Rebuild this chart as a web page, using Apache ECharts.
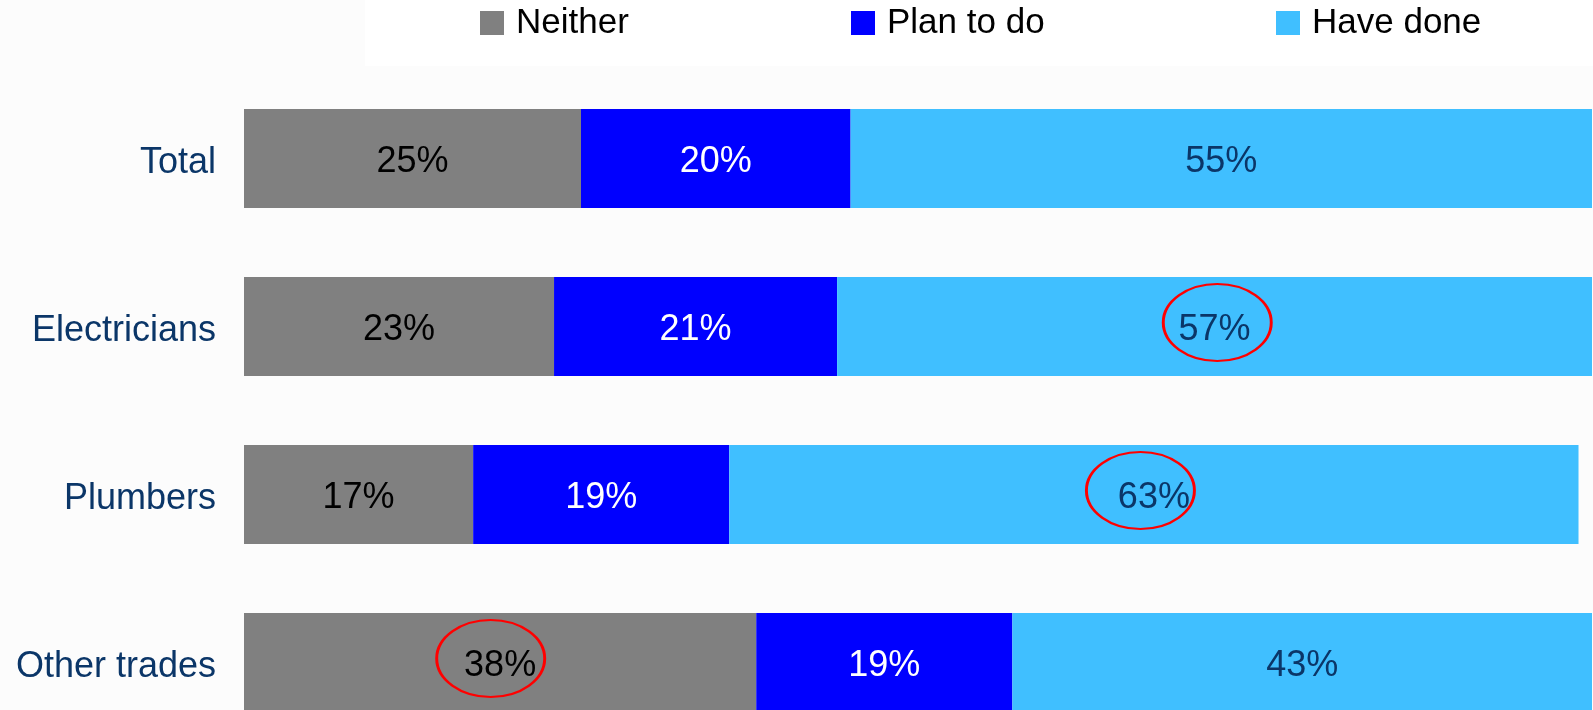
<!DOCTYPE html>
<html>
<head>
<meta charset="utf-8">
<script src="https://cdn.jsdelivr.net/npm/echarts@6/dist/echarts.min.js"></script>
<style>
  html, body { margin: 0; padding: 0; background: #fcfcfc; }
  #chart { width: 1593px; height: 710px; }
</style>
</head>
<body>
<div id="chart"></div>
<script>
// Survey groups, top to bottom
const categories = ['Total', 'Electricians', 'Plumbers', 'Other trades'];

// Share of respondents (%) per answer
const neither = [25, 23, 17, 38];
const planToDo = [20, 21, 19, 19];
const haveDone = [55, 57, 63, 43];

// Highlighted figures: [x value at ellipse centre, category]
const highlightHaveDone = [[72.2, 'Electricians'], [66.5, 'Plumbers']];
const highlightNeither = [[18.3, 'Other trades']];

const FONT = 'Liberation Sans, Arial, sans-serif';
const DARK_BLUE = '#0B3668';

function ellipseMarks(points) {
  return {
    symbol: 'circle',
    symbolSize: [108, 77],
    symbolOffset: [0, -4],
    silent: true,
    itemStyle: { color: 'rgba(0,0,0,0)', borderColor: '#ff0000', borderWidth: 2.5 },
    label: { show: false },
    data: points.map(p => ({ coord: [p[0], p[1]] }))
  };
}

function barSeries(name, data, color, labelColor, marks) {
  const s = {
    name: name,
    type: 'bar',
    stack: 'share',
    data: data,
    barWidth: 99,
    itemStyle: { color: color },
    label: {
      show: true,
      position: 'inside',
      offset: [0, 4],
      formatter: '{c}%',
      color: labelColor,
      fontFamily: FONT,
      fontSize: 36
    },
    emphasis: { disabled: true }
  };
  if (marks) s.markPoint = ellipseMarks(marks);
  return s;
}

function legendItem(name, left) {
  return {
    data: [name],
    left: left,
    top: 2,
    padding: 0,
    itemWidth: 24,
    itemHeight: 24,
    icon: 'rect',
    selectedMode: false,
    textStyle: {
      fontFamily: FONT,
      fontSize: 35,
      color: '#000',
      lineHeight: 40,
      padding: [2, 0, 0, 7]
    }
  };
}

const chart = echarts.init(document.getElementById('chart'), null, { renderer: 'canvas' });

chart.setOption({
  backgroundColor: '#fcfcfc',
  animation: false,
  graphic: [{
    type: 'rect',
    z: -10,
    silent: true,
    shape: { x: 365, y: 0, width: 1228, height: 66 },
    style: { fill: '#ffffff' }
  }],
  legend: [
    legendItem('Neither', 480),
    legendItem('Plan to do', 851),
    legendItem('Have done', 1276)
  ],
  grid: {
    left: 244,
    top: 74.5,
    width: 1348,
    height: 672,
    outerBoundsMode: 'none',
    containLabel: false
  },
  xAxis: {
    type: 'value',
    min: 0,
    max: 100,
    show: false
  },
  yAxis: {
    type: 'category',
    data: categories,
    inverse: true,
    axisLine: { show: false },
    axisTick: { show: false },
    splitLine: { show: false },
    axisLabel: {
      margin: 28,
      formatter: '{cat|{value}}',
      rich: {
        cat: {
          fontFamily: FONT,
          fontSize: 36,
          color: DARK_BLUE,
          lineHeight: 40,
          padding: [9, 0, 0, 0]
        }
      }
    }
  },
  series: [
    barSeries('Neither', neither, '#808080', '#000000', highlightNeither),
    barSeries('Plan to do', planToDo, '#0000ff', '#ffffff'),
    barSeries('Have done', haveDone, '#40bfff', DARK_BLUE, highlightHaveDone)
  ]
});
</script>
</body>
</html>
